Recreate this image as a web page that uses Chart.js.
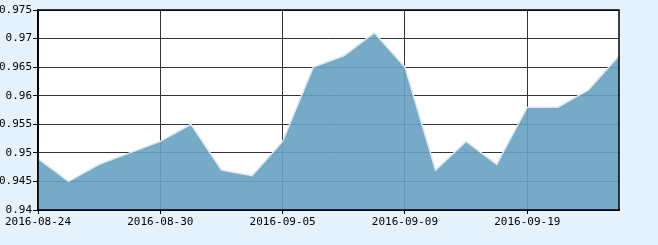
<!DOCTYPE html>
<html>
<head>
<meta charset="utf-8">
<script src="https://cdn.jsdelivr.net/npm/chart.js@4/dist/chart.umd.min.js"></script>
<style>
    html, body { margin: 0; padding: 0; background: #e6f2fb; }
    #wrap { width: 658px; height: 245px; }
</style>
</head>
<body>
<div id="wrap"><canvas id="chart" width="658" height="245"></canvas></div>
<script>
const dates = [
    '2016-08-24', '2016-08-25', '2016-08-26', '2016-08-29', '2016-08-30',
    '2016-08-31', '2016-09-01', '2016-09-02', '2016-09-05', '2016-09-06',
    '2016-09-07', '2016-09-08', '2016-09-09', '2016-09-12', '2016-09-13',
    '2016-09-14', '2016-09-19', '2016-09-20', '2016-09-21', '2016-09-22'
];
const values = [
    0.949, 0.945, 0.948, 0.950, 0.952,
    0.955, 0.947, 0.946, 0.952, 0.965,
    0.967, 0.971, 0.965, 0.947, 0.952,
    0.948, 0.958, 0.958, 0.961, 0.967
];
const yTicks = [0.94, 0.945, 0.95, 0.955, 0.96, 0.965, 0.97, 0.975];
const xLabelEvery = 4;

const tickFont = { family: '"DejaVu Sans Mono", monospace', size: 11 };

// white plot area + black frame
const framePlugin = {
    id: 'frame',
    beforeDraw(chart) {
        const { ctx, chartArea: a } = chart;
        ctx.save();
        ctx.fillStyle = '#ffffff';
        ctx.fillRect(a.left, a.top, a.right - a.left, a.bottom - a.top);
        ctx.restore();
    },
    afterDatasetsDraw(chart) {
        const { ctx, chartArea: a } = chart;
        ctx.save();
        ctx.strokeStyle = '#000000';
        ctx.lineWidth = 1.5;
        ctx.strokeRect(a.left, a.top, a.right - a.left, a.bottom - a.top);
        ctx.restore();
    }
};

const ctx = document.getElementById('chart');
new Chart(ctx, {
    type: 'line',
    data: {
        labels: dates,
        datasets: [{
            data: values,
            fill: 'start',
            backgroundColor: 'rgba(103,161,192,0.9)',
            borderColor: '#d6ebf7',
            borderWidth: 1.5,
            pointRadius: 0,
            tension: 0
        }]
    },
    options: {
        responsive: false,
        animation: false,
        events: [],
        layout: { padding: { left: 0, top: 10, right: 39, bottom: 0 } },
        plugins: {
            legend: { display: false },
            tooltip: { enabled: false }
        },
        scales: {
            x: {
                type: 'category',
                offset: false,
                afterFit: scale => { scale.height = 35; },
                grid: {
                    color: c => (c.index % xLabelEvery === 0 ? '#333333' : 'rgba(0,0,0,0)'),
                    lineWidth: 1,
                    tickLength: 4,
                    tickColor: c => (c.index % xLabelEvery === 0 ? '#000000' : 'rgba(0,0,0,0)')
                },
                border: { color: '#000000', width: 1.5 },
                ticks: {
                    autoSkip: false,
                    maxRotation: 0,
                    padding: 2,
                    color: '#000000',
                    font: tickFont,
                    callback: function(value, index) {
                        return index % xLabelEvery === 0 ? this.getLabelForValue(value) : '';
                    }
                }
            },
            y: {
                min: 0.94,
                max: 0.975,
                afterFit: scale => { scale.width = 38; },
                afterBuildTicks: scale => { scale.ticks = yTicks.map(v => ({ value: v })); },
                grid: {
                    color: '#333333',
                    lineWidth: 1,
                    tickLength: 5,
                    tickColor: '#000000'
                },
                border: { color: '#000000', width: 1.5 },
                ticks: {
                    padding: 1,
                    color: '#000000',
                    font: tickFont,
                    callback: value => String(parseFloat(value.toFixed(3)))
                }
            }
        }
    },
    plugins: [framePlugin]
});
</script>
</body>
</html>
